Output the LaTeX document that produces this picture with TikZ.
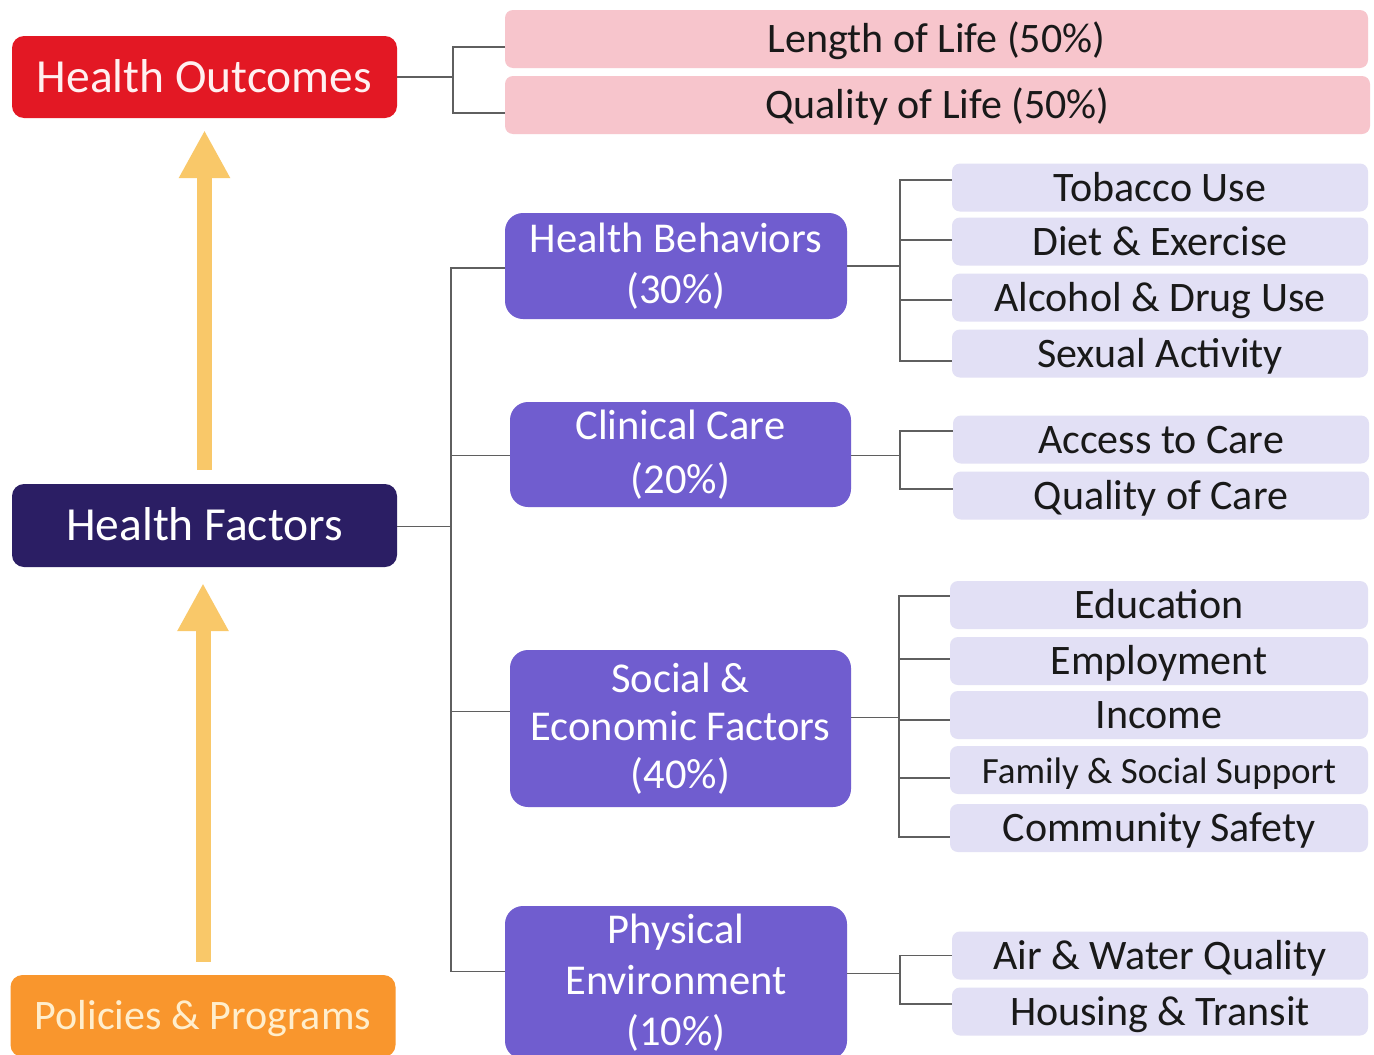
\documentclass[tikz,border=0pt]{standalone}
\usepackage{fontspec}
\setmainfont{Carlito}
\usetikzlibrary{arrows.meta}
\definecolor{hored}{RGB}{227,24,36}
\definecolor{hfnavy}{RGB}{43,30,100}
\definecolor{pporange}{RGB}{249,150,45}
\definecolor{arrowyel}{RGB}{249,200,105}
\definecolor{purp}{RGB}{112,93,207}
\definecolor{pinkbox}{RGB}{247,197,204}
\definecolor{lav}{RGB}{226,224,245}
\definecolor{conncol}{RGB}{95,95,95}
\definecolor{cream}{RGB}{255,238,205}
\definecolor{darktxt}{RGB}{25,25,25}
\begin{document}
\begin{tikzpicture}[x=1pt,y=-1pt,
  box/.style={inner sep=0pt, align=center},
  topbox/.style={box, rounded corners=12pt, minimum width=385pt, minimum height=82pt,
    text height=36pt, text depth=6pt, font=\fontsize{47.5}{54}\selectfont},
  midbox/.style={box, rounded corners=18pt, fill=purp, text=white,
    font=\fontsize{42.5}{51}\selectfont},
  pinkleaf/.style={box, rounded corners=8pt, fill=pinkbox, text=darktxt,
    minimum height=58pt, text height=33pt, text depth=6pt, font=\fontsize{42}{50}\selectfont},
  leaf/.style={box, rounded corners=8pt, fill=lav, text=darktxt,
    minimum width=416pt, minimum height=48pt, text height=33pt, text depth=6pt,
    font=\fontsize{42}{50}\selectfont},
  conn/.style={draw=conncol, line width=1.5pt},
  fatarrow/.style={draw=arrowyel, line width=15pt,
    -{Triangle[width=48pt,length=48pt]}}
]
\useasboundingbox (0,0) rectangle (1374,1055);
\clip (0,0) rectangle (1374,1055);
\fill[white] (0,0) rectangle (1374,1055);

% left column
\node[topbox, fill=hored, text={rgb,255:red,255;green,240;blue,240}] (ho) at (204.5,77) {Health Outcomes};
\node[topbox, fill=hfnavy, text=white, minimum height=83pt] (hf) at (204.5,525.5) {Health Factors};
\node[topbox, fill=pporange, text=cream, minimum height=82pt,
  font=\fontsize{42}{50}\selectfont, text height=33pt, text depth=6pt] (pp) at (203,1016) {Policies \& Programs};

% outcomes
\node[pinkleaf, minimum width=863pt] (lol) at (936.5,39) {Length of Life (50\%)};
\node[pinkleaf, minimum width=865pt] (qol) at (937.5,105) {Quality of Life (50\%)};

% middle
\node[midbox, minimum width=342pt, minimum height=106pt] (hb) at (676,266) {Health Behaviors\\(30\%)};
\node[midbox, minimum width=341pt, minimum height=105pt, font=\fontsize{42.5}{54}\selectfont] (cc) at (680.5,454.5) {Clinical Care\\(20\%)};
\node[midbox, minimum width=341pt, minimum height=157pt, font=\fontsize{42.5}{48}\selectfont] (sef) at (680.5,728.5) {Social \&\\Economic Factors\\(40\%)};
\node[midbox, minimum width=342pt, minimum height=153pt] (pe) at (676,982.5) {Physical\\Environment\\(10\%)};

% leaves
\node[leaf] (tob) at (1160,187.5) {Tobacco Use};
\node[leaf] (die) at (1160,241.5) {Diet \& Exercise};
\node[leaf] (alc) at (1160,297.5) {Alcohol \& Drug Use};
\node[leaf] (sex) at (1160,353.5) {Sexual Activity};
\node[leaf] (acc) at (1161,439.5) {Access to Care};
\node[leaf] (qoc) at (1161,495.5) {Quality of Care};
\node[leaf, minimum width=418pt] (edu) at (1159,605) {Education};
\node[leaf, minimum width=418pt] (emp) at (1159,661) {Employment};
\node[leaf, minimum width=418pt] (inc) at (1159,715) {Income};
\node[leaf, minimum width=418pt, font=\fontsize{37}{44}\selectfont] (fam) at (1159,770) {Family \& Social Support};
\node[leaf, minimum width=418pt] (com) at (1159,828) {Community Safety};
\node[leaf] (air) at (1160,955.5) {Air \& Water Quality};
\node[leaf] (hou) at (1160,1011.5) {Housing \& Transit};

% connectors (yshift = offset of the joint on the child's left side)
\foreach \c/\s in {lol/-8,qol/-8}
  \draw[conn] (ho.east) -- ++(56,0) |- ([yshift=\s pt]\c.west);
\foreach \c/\s in {hb/-2,cc/-1,sef/17,pe/11}
  \draw[conn] ([yshift=-1pt]hf.east) -- ++(54,0) |- ([yshift=\s pt]\c.west);
\foreach \c/\s in {tob/7.5,die/1.5,alc/-2.5,sex/-7.5}
  \draw[conn] (hb.east) -- ++(53,0) |- ([yshift=\s pt]\c.west);
\foreach \c/\s in {acc/8.5,qoc/6.5}
  \draw[conn] ([yshift=-1pt]cc.east) -- ++(49,0) |- ([yshift=\s pt]\c.west);
\foreach \c/\s in {edu/9,emp/2,inc/-5,fam/-8,com/-9}
  \draw[conn] ([yshift=11pt]sef.east) -- ++(48,0) |- ([yshift=\s pt]\c.west);
\foreach \c/\s in {air/0,hou/7.5}
  \draw[conn] ([yshift=9pt]pe.east) -- ++(53,0) |- ([yshift=\s pt]\c.west);

% arrows
\draw[fatarrow, shorten <=14pt, shorten >=12pt] (hf.north) -- (ho.south);
\draw[fatarrow, shorten <=13pt, shorten >=16pt] (pp.north) -- (pp.north |- hf.south);
\end{tikzpicture}
\end{document}
